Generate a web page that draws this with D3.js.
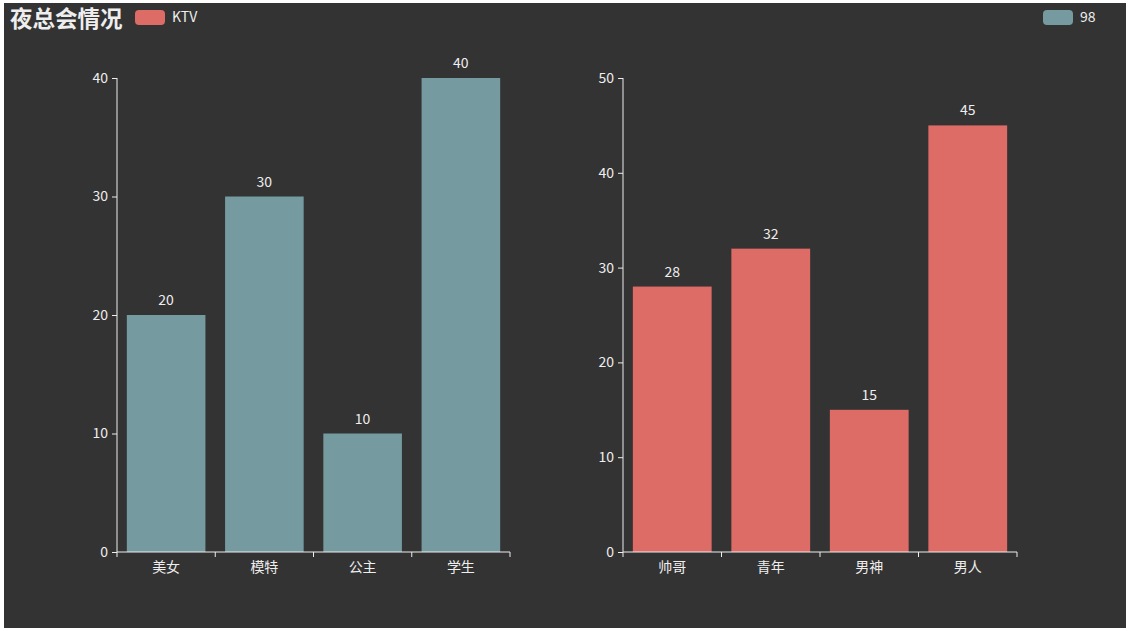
<!DOCTYPE html>
<html><head><meta charset="utf-8">
<script src="https://cdn.jsdelivr.net/npm/d3@7"></script>
<style>html,body{margin:0;padding:0;background:#fff;}svg{display:block;}</style>
</head><body>
<svg id="c" width="1128" height="631"></svg>
<script>
const title = "夜总会情况";
const leftCategories = ["美女", "模特", "公主", "学生"];
const leftValues = [20, 30, 10, 40];
const leftSeriesName = "98";
const leftTicks = [0, 10, 20, 30, 40];
const rightCategories = ["帅哥", "青年", "男神", "男人"];
const rightValues = [28, 32, 15, 45];
const rightSeriesName = "KTV";
const rightTicks = [0, 10, 20, 30, 40, 50];

const svg = d3.select("#c");
const font = "'Microsoft YaHei','Noto Sans CJK SC',sans-serif";
svg.append("rect").attr("x", 4).attr("y", 3).attr("width", 1122).attr("height", 625).attr("fill", "#333333");

svg.append("text").attr("x", 10).attr("y", 27).text(title)
  .attr("fill", "#eeeeee").attr("font-size", 22.5).attr("font-weight", "bold").attr("font-family", font);

function legend(x, color, label) {
  svg.append("rect").attr("x", x).attr("y", 10).attr("width", 30).attr("height", 15).attr("rx", 4)
    .attr("fill", color);
  svg.append("text").attr("x", x + 37).attr("y", 22).text(label)
    .attr("fill", "#eeeeee").attr("font-size", 14).attr("font-family", font);
}
legend(135, "#dd6b66", rightSeriesName);
legend(1043, "#759aa0", leftSeriesName);

function chart(x0, x1, cats, vals, ticks, color) {
  const y = d3.scaleLinear().domain([0, ticks[ticks.length - 1]]).range([552, 78]);
  const x = d3.scaleBand().domain(cats).range([x0, x1]).paddingInner(0.2).paddingOuter(0.1);
  const g = svg.append("g");
  g.selectAll("rect.bar").data(cats).enter().append("rect")
    .attr("x", d => x(d)).attr("width", x.bandwidth())
    .attr("y", (d, i) => y(vals[i])).attr("height", (d, i) => y(0) - y(vals[i]))
    .attr("fill", color);
  g.selectAll("text.lbl").data(cats).enter().append("text")
    .attr("x", d => x(d) + x.bandwidth() / 2).attr("y", (d, i) => y(vals[i]) - 10)
    .attr("text-anchor", "middle").text((d, i) => vals[i])
    .attr("fill", "#eeeeee").attr("font-size", 14).attr("font-family", font);
  const ya = g.append("g").attr("transform", `translate(${x0},0)`)
    .call(d3.axisLeft(y).tickValues(ticks).tickSize(5).tickPadding(4));
  ya.select(".domain").attr("stroke", "#eeeeee").attr("d", `M0,${y(ticks[ticks.length-1])}V${y(0)}`);
  ya.selectAll(".tick line").attr("stroke", "#eeeeee");
  ya.selectAll(".tick text").attr("fill", "#eeeeee").attr("font-size", 14).attr("font-family", font);
  const xa = g.append("g").attr("transform", `translate(0,${y(0)})`)
    .call(d3.axisBottom(x).tickSize(0).tickPadding(10));
  xa.select(".domain").attr("stroke", "#eeeeee").attr("d", `M${x0},0H${x1}`);
  xa.selectAll(".tick text").attr("fill", "#eeeeee").attr("font-size", 14).attr("font-family", font);
  const bounds = d3.range(cats.length + 1).map(i => x0 + (x1 - x0) * i / cats.length);
  xa.selectAll("line.b").data(bounds).enter().append("line")
    .attr("x1", d => d).attr("x2", d => d).attr("y1", 0).attr("y2", 5).attr("stroke", "#eeeeee");
}
chart(117, 510, leftCategories, leftValues, leftTicks, "#759aa0");
chart(623, 1017, rightCategories, rightValues, rightTicks, "#dd6b66");
</script>
</body></html>
